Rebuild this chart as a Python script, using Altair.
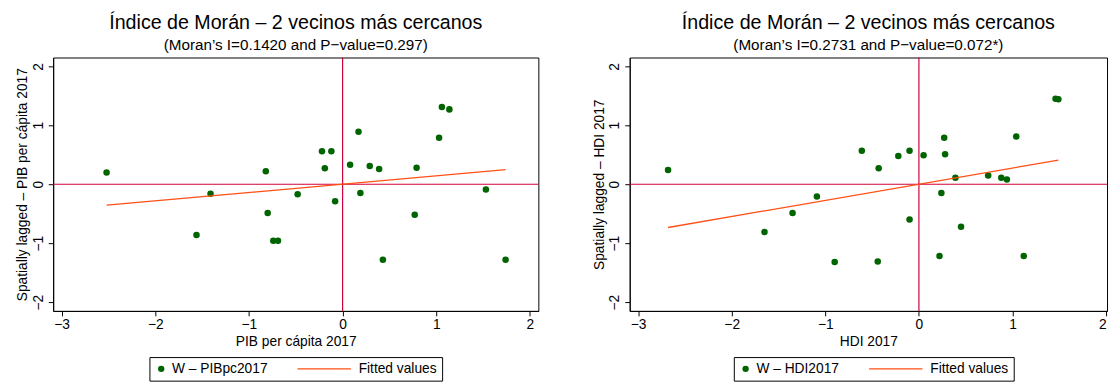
import altair as alt
import pandas as pd

FONT = "Liberation Sans"
GREEN = "#006400"
ORANGE = "#ff4f14"
RED = "#d0003a"

# ---- data ----
pib_x = [-2.52, -1.56, -1.41, -0.82, -0.80, -0.74, -0.69, -0.48, -0.22, -0.19, -0.12, -0.08,
         0.08, 0.17, 0.19, 0.29, 0.39, 0.43, 0.77, 0.79, 1.03, 1.06, 1.14, 1.53, 1.74]
pib_wy = [0.20, -0.86, -0.16, 0.22, -0.49, -0.96, -0.96, -0.17, 0.56, 0.27, 0.56, -0.29,
          0.33, 0.89, -0.15, 0.31, 0.26, -1.28, -0.52, 0.28, 0.79, 1.31, 1.27, -0.09, -1.28]

hdi_x = [-2.68, -1.65, -1.35, -1.09, -0.90, -0.61, -0.44, -0.43, -0.22, -0.10, -0.10, 0.05,
         0.22, 0.24, 0.27, 0.28, 0.39, 0.45, 0.74, 0.88, 0.94, 1.04, 1.12, 1.46, 1.49]
hdi_wy = [0.24, -0.81, -0.49, -0.21, -1.32, 0.57, -1.31, 0.27, 0.48, 0.57, -0.60, 0.49,
          -1.22, -0.15, 0.79, 0.51, 0.11, -0.72, 0.15, 0.11, 0.08, 0.81, -1.22, 1.45, 1.44]

x_ticks = [-3, -2, -1, 0, 1, 2]
y_ticks = [-2, -1, 0, 1, 2]
ref_zero = [0]

title_text = "Índice de Morán – 2 vecinos más cercanos"
pib_sub = "(Moran’s I=0.1420 and P−value=0.297)"
hdi_sub = "(Moran’s I=0.2731 and P−value=0.072*)"
fit_label = "Fitted values"

# legend glyphs: a dot, and a thin bar standing for the fitted line
LINE_GLYPH = "M-15.8,-0.21L0.95,-0.21L0.95,0.21L-15.8,0.21Z"


def panel(xs, ys, series_label, xtitle, ytitle, subtitle, width, xmax, legend_x):
    df = pd.DataFrame({"x": xs, "wy": ys, "series": series_label})
    dom = [series_label, fit_label]
    xscale = alt.Scale(domain=[-3.09, xmax], nice=False, zero=False)
    yscale = alt.Scale(domain=[-2.15, 2.15], nice=False, zero=False)
    cscale = alt.Scale(domain=dom, range=[GREEN, ORANGE])
    sscale = alt.Scale(domain=dom, range=["circle", LINE_GLYPH])
    legend = alt.Legend(
        title=None, orient="none", direction="horizontal",
        legendX=legend_x, legendY=305,
        strokeColor="black", padding=5, cornerRadius=0, fillColor="white",
        labelFont=FONT, labelFontSize=14, labelColor="black", labelOffset=4,
        columnPadding=29, symbolSize=42, symbolStrokeWidth=0,
    )
    xenc = alt.X("x:Q", scale=xscale, axis=alt.Axis(
        values=x_ticks, title=xtitle, format="d", labelPadding=2, titlePadding=3))
    yenc = alt.Y("wy:Q", scale=yscale, axis=alt.Axis(
        values=y_ticks, title=ytitle, format="d", labelAngle=270, labelAlign="center",
        labelBaseline="bottom", labelPadding=3, titlePadding=2))
    base = alt.Chart(df)
    pts = base.mark_point(filled=True, size=44, opacity=1).encode(
        x=xenc, y=yenc,
        color=alt.Color("series:N", scale=cscale, legend=legend),
        shape=alt.Shape("series:N", scale=sscale, legend=legend))
    hrule = alt.Chart(pd.DataFrame({"wy": ref_zero})).mark_rule(
        color=RED, strokeWidth=1.2).encode(y=alt.Y("wy:Q", scale=yscale))
    vrule = alt.Chart(pd.DataFrame({"x": ref_zero})).mark_rule(
        color=RED, strokeWidth=1.2).encode(x=alt.X("x:Q", scale=xscale))
    fit = base.transform_regression("x", "wy").transform_calculate(
        series=f"'{fit_label}'").mark_line(strokeWidth=1.3).encode(
        x=alt.X("x:Q", scale=xscale), y=alt.Y("wy:Q", scale=yscale),
        color=alt.Color("series:N", scale=cscale, legend=legend))
    return alt.layer(pts, hrule, vrule, fit).properties(
        width=width, height=258,
        title=alt.TitleParams(
            text=title_text, subtitle=subtitle, font=FONT, subtitleFont=FONT,
            fontSize=20, subtitleFontSize=15.5, fontWeight="normal", color="black",
            subtitleColor="black", anchor="middle", offset=4, subtitlePadding=5),
    )


left = panel(pib_x, pib_wy, "W – PIBpc2017", "PIB per cápita 2017",
             "Spatially lagged – PIB per cápita 2017", pib_sub, 494, 2.09, 98)
right = panel(hdi_x, hdi_wy, "W – HDI2017", "HDI 2017",
              "Spatially lagged – HDI 2017", hdi_sub, 486, 2.01, 106)

chart = alt.hconcat(left, right, spacing=52).resolve_scale(
    x="independent", y="independent", color="independent", shape="independent"
).resolve_legend(color="independent", shape="independent").properties(
    padding={"left": 7, "top": 1, "right": 0, "bottom": 0}, background="white"
).configure_view(stroke="black", strokeWidth=1).configure_axis(
    labelFont=FONT, titleFont=FONT, labelFontSize=14, titleFontSize=14,
    labelColor="black", titleColor="black", titleFontWeight="normal",
    domainColor="black", tickColor="black", tickSize=5, grid=False,
    domainWidth=1, tickWidth=1,
)

chart.save("out.html", embed_options={"renderer": "svg", "actions": False})
